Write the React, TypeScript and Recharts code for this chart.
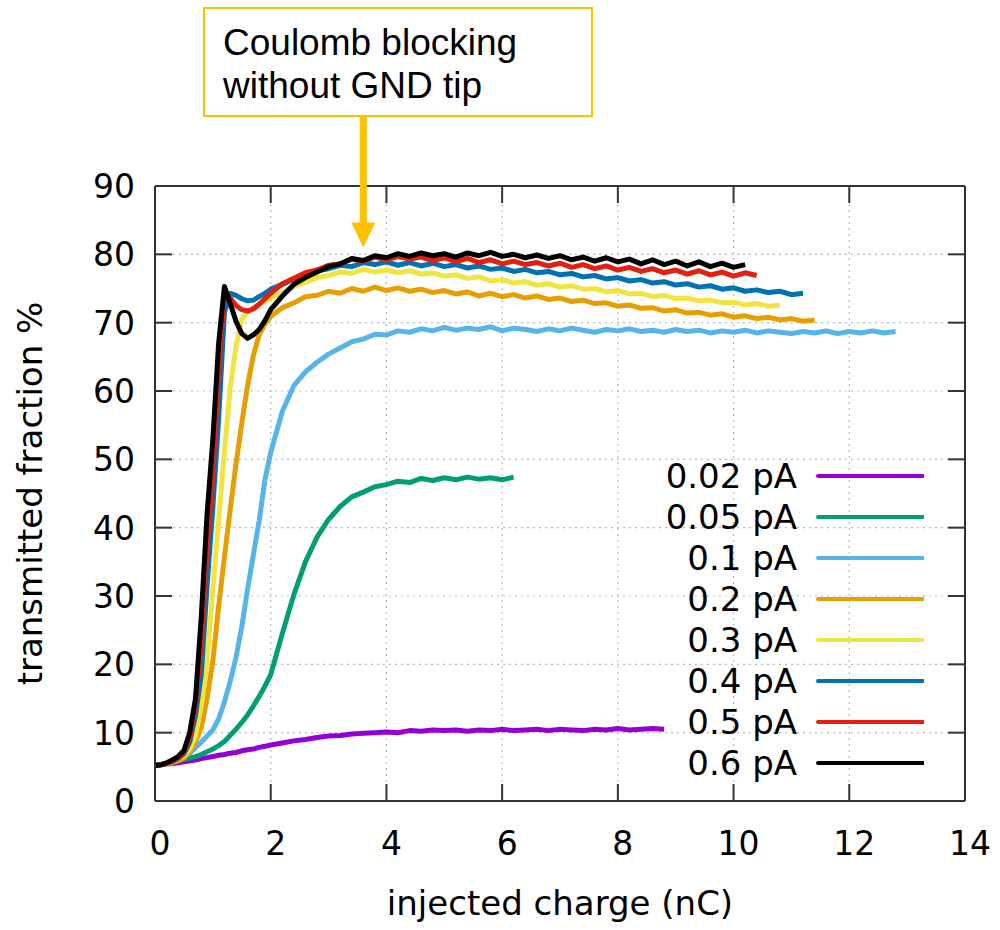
import React from "react"
import { LineChart, Line, XAxis, YAxis, CartesianGrid, Legend, ReferenceDot } from "recharts"

// injected charge (nC), shared by every curve
const charge = [
  0, 0.1, 0.2, 0.3, 0.4, 0.5, 0.6, 0.7, 0.8, 0.9, 1, 1.1, 1.2, 1.3, 1.4, 1.5, 1.6, 1.7, 1.8, 1.9, 2,
  2.2, 2.4, 2.6, 2.8, 3, 3.2, 3.4, 3.6, 3.8, 4, 4.2, 4.4, 4.6, 4.8, 5, 5.2, 5.4, 5.6, 5.8, 6, 6.2, 6.4,
  6.6, 6.8, 7, 7.2, 7.4, 7.6, 7.8, 8, 8.2, 8.4, 8.6, 8.8, 9, 9.2, 9.4, 9.6, 9.8, 10, 10.2, 10.4, 10.6,
  10.8, 11, 11.2, 11.4, 11.6, 11.8, 12, 12.2, 12.4, 12.6, 12.8,
]

// transmitted fraction (%) per beam current
const f002 = [
  5.2, 5.3, 5.4, 5.5, 5.6, 5.75, 5.9, 6.0, 6.2, 6.35, 6.5, 6.7, 6.8, 7.0, 7.1, 7.35, 7.5, 7.6, 7.85, 8.0, 8.2,
  8.5, 8.8, 9.0, 9.3, 9.5, 9.6, 9.8, 9.9, 10.0, 10.1, 10.0, 10.3, 10.2, 10.4, 10.3, 10.4, 10.2, 10.4, 10.3,
  10.5, 10.3, 10.4, 10.5, 10.3, 10.5, 10.4, 10.3, 10.5, 10.4, 10.6, 10.4, 10.5, 10.6, 10.5,
]
const f005 = [
  5.2, 5.3, 5.5, 5.7, 5.9, 6.1, 6.3, 6.5, 6.8, 7.2, 7.6, 8.1, 8.7, 9.6, 10.5, 11.5, 12.6, 13.9, 15.3, 16.8, 18.5,
  24.5, 30.2, 35, 38.6, 41.2, 43.1, 44.5, 45.2, 46.0, 46.3, 46.8, 46.6, 47.2, 46.9, 47.3, 47.0, 47.4, 47.1,
  47.3, 47.0, 47.4,
]
const f01 = [
  5.2, 5.3, 5.5, 5.7, 6.0, 6.4, 7.0, 7.8, 8.6, 9.5, 10.4, 12.0, 14.5, 17.5, 21.0, 25.5, 31.0, 36.0, 41.0, 47.0, 51.0,
  57.0, 60.8, 62.8, 64.2, 65.4, 66.3, 67.2, 67.6, 68.3, 68.2, 68.8, 68.6, 69.1, 68.8, 69.3, 68.9, 69.2, 69.0,
  69.4, 68.8, 69.2, 69.0, 68.7, 69.1, 68.8, 69.2, 68.9, 68.6, 69.0, 68.8, 69.1, 68.7, 68.9, 68.6, 69.0, 68.7,
  68.9, 68.5, 68.8, 68.6, 68.9, 68.5, 68.8, 68.6, 68.4, 68.7, 68.5, 68.8, 68.4, 68.7, 68.5, 68.8, 68.5, 68.7,
]
const f02 = [
  5.2, 5.3, 5.4, 5.6, 5.9, 6.3, 7.2, 8.6, 10.8, 15, 20.5, 28.5, 35.7, 42.7, 49.3, 55.3, 60.8, 65.2, 68.2, 69.8, 70.9,
  72.2, 72.9, 73.8, 74.0, 74.6, 74.3, 75.0, 74.6, 75.2, 74.7, 75.1, 74.6, 74.9, 74.4, 74.7, 74.2, 74.5, 73.9,
  74.3, 73.8, 74.1, 73.6, 73.9, 73.4, 73.6, 73.1, 73.3, 72.8, 72.9, 72.4, 72.6, 72.1, 72.2, 71.7, 71.9, 71.4,
  71.5, 71.1, 71.3, 70.8, 71.0, 70.6, 70.8, 70.4, 70.6, 70.2, 70.4,
]
const f03 = [
  5.2, 5.3, 5.5, 5.8, 6.1, 6.6, 7.6, 9.5, 14, 20.5, 31, 41, 51, 60.5, 66.5, 70.5, 71.6, 72.2, 72.7, 73.1, 73.6,
  74.4, 75.3, 75.9, 76.6, 76.9, 77.4, 77.2, 77.8, 77.4, 77.7, 77.3, 77.6, 77.1, 77.3, 76.8, 77.0, 76.5, 76.7,
  76.1, 76.3, 75.8, 76.0, 75.5, 75.7, 75.2, 75.4, 74.9, 75.0, 74.5, 74.7, 74.2, 74.3, 73.8, 74.0, 73.5, 73.6,
  73.2, 73.3, 72.9, 73.0, 72.6, 72.8, 72.4, 72.6,
]
const f04 = [
  5.2, 5.3, 5.5, 5.8, 6.2, 6.9, 8.6, 12.5, 18.5, 31.5, 43, 56, 71.5, 74.3, 74.0, 73.5, 73.2, 73.3, 73.8, 74.3, 74.9,
  75.6, 76.4, 76.9, 77.6, 77.9, 78.4, 78.2, 78.8, 78.5, 78.9, 78.4, 78.8, 78.3, 78.7, 78.2, 78.5, 78.0, 78.3,
  77.8, 78.0, 77.5, 77.8, 77.3, 77.5, 77.0, 77.2, 76.7, 76.9, 76.4, 76.6, 76.1, 76.3, 75.8, 76.0, 75.5, 75.7,
  75.2, 75.4, 74.9, 75.1, 74.6, 74.8, 74.4, 74.6, 74.1, 74.3,
]
const f05 = [
  5.2, 5.3, 5.5, 5.8, 6.3, 7.2, 9.2, 14, 23, 37, 48, 63, 74.5, 73.6, 72.5, 71.9, 71.7, 72.0, 72.7, 73.5, 74.3,
  75.7, 76.5, 77.3, 77.7, 78.4, 78.6, 79.3, 79.0, 79.6, 79.2, 79.7, 79.3, 79.6, 79.1, 79.5, 78.9, 79.4, 78.8,
  79.2, 78.6, 79.0, 78.5, 78.8, 78.3, 78.7, 78.1, 78.5, 77.9, 78.3, 77.7, 78.1, 77.5, 77.9, 77.3, 77.7, 77.1,
  77.6, 77.0, 77.4, 76.8, 77.3, 76.9,
]
const f06 = [
  5.2, 5.3, 5.6, 6.0, 6.5, 7.4, 10, 15, 27, 42, 53, 67, 75.3, 72.8, 70.2, 68.4, 67.7, 68.2, 69.0, 70.3, 71.9,
  73.9, 75.6, 76.6, 77.4, 78.2, 78.6, 79.4, 79.1, 79.8, 79.5, 80.1, 79.7, 80.2, 79.8, 80.1, 79.6, 80.2, 79.8,
  80.3, 79.7, 80.0, 79.5, 79.9, 79.4, 79.8, 79.2, 79.6, 79.0, 79.5, 78.9, 79.3, 78.6, 79.2, 78.5, 79.0, 78.3,
  78.9, 78.2, 78.7, 78.1, 78.5,
]

const currents = ["0.02 pA", "0.05 pA", "0.1 pA", "0.2 pA", "0.3 pA", "0.4 pA", "0.5 pA", "0.6 pA"]
const colors = ["#9400d3", "#009e73", "#56b4e9", "#e69f00", "#f0e442", "#0072b2", "#e51e10", "#000000"]
const fractions = [f002, f005, f01, f02, f03, f04, f05, f06]

const xTicks = [0, 2, 4, 6, 8, 10, 12, 14]
const yTicks = [0, 10, 20, 30, 40, 50, 60, 70, 80, 90]

const note = ["Coulomb blocking", "without GND tip"]
const noteAt = { q: 3.6, frac: 81 }

const FONT = "'DejaVu Sans', sans-serif"
const FRAME = "#333"
const NOTE = "#ffc000"
const TICK_LEN = 17

const rows = charge.map((q, i) => {
  const row: Record<string, number | undefined> = { q }
  fractions.forEach((f, k) => {
    row["s" + k] = f[i]
  })
  return row
})

const BottomTick = ({ x, y, payload }: any) => (
  <g>
    <line x1={x} x2={x} y1={y} y2={y - TICK_LEN} stroke={FRAME} strokeWidth={2} />
    <text x={x + 5} y={y + 54} textAnchor="middle" fontFamily={FONT} fontSize={33} fill="#000">
      {payload.value}
    </text>
  </g>
)

const LeftTick = ({ x, y, payload }: any) => (
  <g>
    <line x1={x} x2={x + TICK_LEN} y1={y} y2={y} stroke={FRAME} strokeWidth={2} />
    <text x={x - 20} y={y + 12} textAnchor="end" fontFamily={FONT} fontSize={33} fill="#000">
      {payload.value}
    </text>
  </g>
)

const TopTick = ({ x, y }: any) => (
  <line x1={x} x2={x} y1={y} y2={y + TICK_LEN} stroke={FRAME} strokeWidth={2} />
)

const RightTick = ({ x, y }: any) => (
  <line x1={x} x2={x - TICK_LEN} y1={y} y2={y} stroke={FRAME} strokeWidth={2} />
)

const xTitle = (props: any) => {
  const vb = props.viewBox
  return (
    <text x={vb.x + vb.width / 2} y={vb.y + 114} textAnchor="middle" fontFamily={FONT} fontSize={34} fill="#000">
      injected charge (nC)
    </text>
  )
}

const yTitle = (props: any) => {
  const vb = props.viewBox
  const cx = vb.x + 42
  const cy = vb.y + vb.height / 2
  return (
    <text
      x={cx}
      y={cy}
      transform={`rotate(-90, ${cx}, ${cy})`}
      textAnchor="middle"
      fontFamily={FONT}
      fontSize={34}
      fill="#000"
    >
      transmitted fraction %
    </text>
  )
}

const Arrow = ({ cx, cy }: any) => (
  <g>
    <line x1={cx} x2={cx} y1={cy - 22} y2={cy - 131} stroke={NOTE} strokeWidth={7} />
    <polygon points={`${cx - 12},${cy - 25} ${cx + 12},${cy - 25} ${cx},${cy}`} fill={NOTE} />
  </g>
)

const LegendBox = (props: any) => (
  <div style={{ fontFamily: FONT, fontSize: 34, color: "#000" }}>
    {(props.payload || [])
      .filter((e: any) => currents.includes(e.value))
      .map((e: any) => (
        <div key={e.value} style={{ display: "flex", alignItems: "center", height: 41.1 }}>
          <span style={{ width: 157, textAlign: "right", whiteSpace: "nowrap" }}>{e.value}</span>
          <svg width={127} height={10} style={{ display: "block" }}>
            <line x1={21} x2={126} y1={5} y2={5} stroke={e.color} strokeWidth={4} strokeLinecap="round" />
          </svg>
        </div>
      ))}
  </div>
)

export default function App() {
  return (
    <div style={{ position: "absolute", left: 0, top: 0, width: 1000, height: 930, background: "#fff" }}>
      <div
        style={{
          position: "absolute",
          left: 203,
          top: 7,
          width: 390,
          height: 110,
          boxSizing: "border-box",
          border: `2px solid ${NOTE}`,
          padding: "12px 0 0 18px",
          fontFamily: "'Liberation Sans', Arial, sans-serif",
          fontSize: 37,
          lineHeight: "43px",
          color: "#000",
          zIndex: 2,
          background: "#fff",
        }}
      >
        {note.map((t) => (
          <div key={t}>{t}</div>
        ))}
      </div>
      <LineChart width={1000} height={930} data={rows} margin={{ top: 185, right: 34, bottom: 0, left: 0 }}>
        <CartesianGrid xAxisId="b" yAxisId="l" stroke="#b8b8b8" strokeDasharray="2 4" strokeWidth={1.2} />
        <XAxis
          xAxisId="b"
          dataKey="q"
          type="number"
          domain={[0, 14]}
          ticks={xTicks}
          height={129}
          tickSize={0}
          tickMargin={0}
          tickLine={false}
          axisLine={{ stroke: FRAME, strokeWidth: 2 }}
          tick={(p: any) => <BottomTick {...p} />}
          label={xTitle}
        />
        <XAxis
          xAxisId="t"
          orientation="top"
          dataKey="q"
          type="number"
          domain={[0, 14]}
          ticks={xTicks}
          height={1}
          tickSize={0}
          tickMargin={0}
          tickLine={false}
          axisLine={{ stroke: FRAME, strokeWidth: 2 }}
          tick={(p: any) => <TopTick {...p} />}
        />
        <YAxis
          yAxisId="l"
          type="number"
          domain={[0, 90]}
          ticks={yTicks}
          width={155}
          tickSize={0}
          tickMargin={0}
          tickLine={false}
          axisLine={{ stroke: FRAME, strokeWidth: 2 }}
          tick={(p: any) => <LeftTick {...p} />}
          label={yTitle}
        />
        <YAxis
          yAxisId="r"
          orientation="right"
          type="number"
          domain={[0, 90]}
          ticks={yTicks}
          width={1}
          tickSize={0}
          tickMargin={0}
          tickLine={false}
          axisLine={{ stroke: FRAME, strokeWidth: 2 }}
          tick={(p: any) => <RightTick {...p} />}
        />
        {/* invisible twin so the mirrored top/right axes have a series */}
        <Line
          xAxisId="t"
          yAxisId="r"
          dataKey="s7"
          stroke="none"
          dot={false}
          activeDot={false}
          legendType="none"
          isAnimationActive={false}
        />
        {currents.map((name, k) => (
          <Line
            key={name}
            xAxisId="b"
            yAxisId="l"
            dataKey={"s" + k}
            name={name}
            stroke={colors[k]}
            strokeWidth={5}
            strokeLinejoin="round"
            dot={false}
            activeDot={false}
            isAnimationActive={false}
          />
        ))}
        <ReferenceDot
          xAxisId="b"
          yAxisId="l"
          x={noteAt.q}
          y={noteAt.frac}
          ifOverflow="visible"
          shape={(p: any) => <Arrow {...p} />}
        />
        <Legend
          layout="vertical"
          align="center"
          verticalAlign="middle"
          wrapperStyle={{ left: 640, top: 455, width: 300 }}
          content={(p: any) => <LegendBox {...p} />}
        />
      </LineChart>
    </div>
  )
}
